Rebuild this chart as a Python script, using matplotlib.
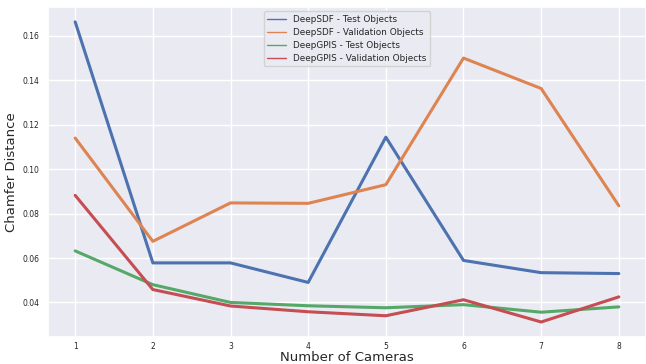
import matplotlib
matplotlib.use("Agg")
import matplotlib.pyplot as plt
import seaborn as sns
from matplotlib.lines import Line2D

sns.set_theme(style="darkgrid")

cameras = [1, 2, 3, 4, 5, 6, 7, 8]
sdf_test = [0.1663, 0.0578, 0.0578, 0.0490, 0.1144, 0.0589, 0.0534, 0.0530]
sdf_val = [0.1140, 0.0675, 0.0848, 0.0846, 0.0930, 0.1500, 0.1363, 0.0835]
gpis_test = [0.0632, 0.0480, 0.0400, 0.0385, 0.0376, 0.0390, 0.0356, 0.0380]
gpis_val = [0.0882, 0.0458, 0.0384, 0.0358, 0.0340, 0.0412, 0.0312, 0.0425]
labels = ["DeepSDF - Test Objects", "DeepSDF - Validation Objects",
          "DeepGPIS - Test Objects", "DeepGPIS - Validation Objects"]

colors = sns.color_palette("deep")[:4]

fig = plt.figure(figsize=(6.46, 3.64), dpi=100)
ax = fig.add_axes([0.0743, 0.0742, 0.9257, 0.907])

for ys, c in zip([sdf_test, sdf_val, gpis_test, gpis_val], colors):
    ax.plot(cameras, ys, color=c, linewidth=2.2)

# legend uses thin handles like the original
handles = [Line2D([0], [0], color=c, linewidth=1) for c in colors]
ax.legend(handles, labels, loc="upper center", fontsize=6.4, framealpha=0.8,
          borderpad=0.4, labelspacing=0.45, handlelength=2.1)

ax.set_xlabel("Number of Cameras", fontsize=9.5, labelpad=0)
ax.set_ylabel("Chamfer Distance", fontsize=9.5, labelpad=3.5)
ax.tick_params(axis="both", labelsize=5.5, length=0)
ax.tick_params(axis="x", pad=3.5)
ax.tick_params(axis="y", pad=6)
ax.set_xticks(cameras)

fig.savefig("out.png", dpi=100)
